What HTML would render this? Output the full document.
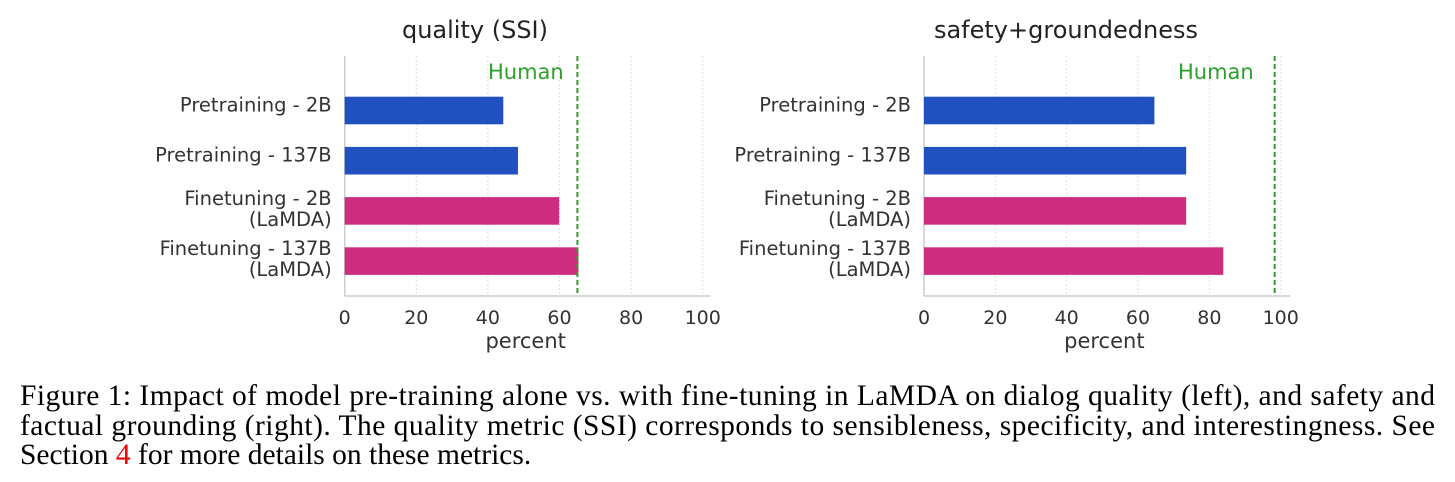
<!DOCTYPE html>
<html><head><meta charset="utf-8"><style>
html,body{margin:0;padding:0;background:#fff;width:1455px;height:482px;overflow:hidden}
svg{display:block}
</style></head><body>
<svg id="fig" width="1455" height="482" viewBox="0 0 1455 482" xmlns="http://www.w3.org/2000/svg" font-family="'DejaVu Sans', 'Liberation Sans', sans-serif">
<g id="left"></g>
<g id="right"></g>
<g font-family="'Liberation Serif', serif" font-size="29.5" fill="#000">
<text x="20" y="405" textLength="1415" lengthAdjust="spacing">Figure 1: Impact of model pre-training alone vs. with fine-tuning in LaMDA on dialog quality (left), and safety and</text>
<text x="20" y="435" textLength="1415" lengthAdjust="spacing">factual grounding (right). The quality metric (SSI) corresponds to sensibleness, specificity, and interestingness. See</text>
<text x="20" y="464">Section <tspan fill="#e00">4</tspan> for more details on these metrics.</text>
</g>
</svg>
<script>
const categories = [["Pretraining - 2B"],["Pretraining - 137B"],["Finetuning - 2B","(LaMDA)"],["Finetuning - 137B","(LaMDA)"]];
const qualityValues = [44.3, 48.4, 59.9, 65.3];
const safetyValues = [64.6, 73.5, 73.5, 83.9];
const humanQuality = 65;
const humanSafety = 98.3;
const ticks = [0,20,40,60,80,100];
const barColors = ["#2150c0","#2150c0","#cc2e7d","#cc2e7d"];
const NS="http://www.w3.org/2000/svg";
function mk(parent,tag,attrs,text){const e=document.createElementNS(NS,tag);for(const k in attrs)e.setAttribute(k,attrs[k]);if(text!==undefined)e.textContent=text;parent.appendChild(e);return e;}
function draw(gid,x0,x100,title,titleX,values,human,humanTextX){
  const g=document.getElementById(gid);
  const xs=v=>x0+(x100-x0)*v/100;
  const top=56,bot=296;
  const yc=i=>110.5+i*50.2;
  for(const t of ticks){ if(t===0)continue;
    const l=mk(g,'line',{x1:xs(t),x2:xs(t),y1:top,y2:bot,stroke:'#ddd','stroke-width':1,'stroke-dasharray':'2,2'});
    
    
  }
  const ya=mk(g,'line',{x1:x0,x2:x0,y1:top,y2:bot,stroke:'#ccc','stroke-width':1.5});
  
  
  const xa=mk(g,'line',{x1:x0,x2:x0+366,y1:bot,y2:bot,stroke:'#ccc','stroke-width':1.5});
  
  
  values.forEach((v,i)=>{
    const r=mk(g,'rect',{x:x0,y:yc(i)-13.8,width:xs(v)-x0,height:27.6,fill:barColors[i]});
    
    
    const lines=categories[i];
    lines.forEach((s,j)=>{
      const dy=lines.length===1?1:(j===0?-6:15);
      const t=mk(g,'text',{x:x0-13,y:yc(i)+dy,'text-anchor':'end','font-size':19.5,fill:'#333'},s);
      
      
    });
  });
  const h=mk(g,'line',{x1:xs(human),x2:xs(human),y1:top,y2:bot,stroke:'#2ca02c','stroke-width':2,'stroke-dasharray':'5,3'});
  
  
  const ht=mk(g,'text',{x:humanTextX,y:79,'font-size':21,fill:'#2ca02c'},'Human');
  
  
  for(const t of ticks){
    const tl=mk(g,'text',{x:xs(t),y:324,'text-anchor':'middle','font-size':19,fill:'#333'},String(t));
    
    
  }
  const xt=mk(g,'text',{x:(x0+x100)/2+2,y:348,'text-anchor':'middle','font-size':21,fill:'#333'},'percent');
  
  
  const tt=mk(g,'text',{x:titleX,y:38,'text-anchor':'middle','font-size':24,fill:'#222'},title);
  
  
}
draw('left',344.7,702.7,'quality (SSI)',475,qualityValues,humanQuality,488);
draw('right',924,1280.7,'safety+groundedness',1066,safetyValues,humanSafety,1178);
</script>
</body></html>
